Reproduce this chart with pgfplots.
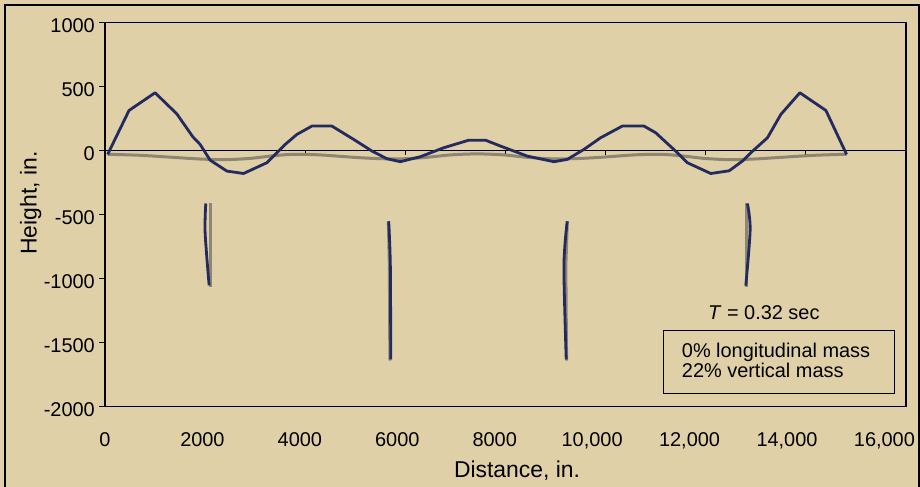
\documentclass[border=0pt]{standalone}
\usepackage{pgfplots}
\pgfplotsset{compat=1.18}
\usepackage{fontspec}
\setmainfont{Liberation Sans}
\definecolor{bg}{RGB}{223,208,167}
\definecolor{navy}{RGB}{35,42,96}
\definecolor{taupe}{RGB}{142,134,112}
\begin{document}
\begin{tikzpicture}
\fill[bg] (0,0) rectangle (920bp,487bp);
\path[use as bounding box] (0,0) rectangle (920bp,487bp);
\draw[line width=1.2bp] (5bp,-5bp) -- (5bp,482bp) -- (919bp,482bp) -- (919bp,-5bp);
\begin{axis}[
 at={(105bp,80.3bp)}, anchor=south west, scale only axis,
 width=801bp, height=384.4bp,
 xmin=0, xmax=16000, ymin=-2000, ymax=1000,
 axis line style={line width=1.2bp},
 xtick={0,2000,4000,6000,8000,10000,12000,14000,16000},
 xticklabels={0,2000,4000,6000,8000,{10,000},{12,000},{14,000},{16,000}},
 ytick={-2000,-1500,-1000,-500,0,500,1000},
 yticklabels={-2000,-1500,-1000,-500,0,500,1000},
 xtick style={draw=none},
 ytick style={line width=1.2bp, black},
 major tick length=6bp,
 tick align=outside,
 xtick pos=bottom, ytick pos=left,
 ticklabel style={font=\fontsize{20}{24}\selectfont, inner sep=0pt},
 xticklabel style={anchor=base, yshift=-33.5bp, xshift={-2.7bp*\ticknum}},
 yticklabel style={anchor=base east, xshift=-4bp, yshift=-10.2bp},
 xlabel={Distance, in.}, ylabel={Height, in.},
 label style={font=\fontsize{23}{27}\selectfont},
 xlabel style={at={(axis description cs:0.5144,-0.1837)}, anchor=base},
 ylabel style={at={(axis description cs:-0.0853,0.530)}, anchor=base},
 clip=false,
 scaled ticks=false,
]
\draw[line width=1.2bp] (axis cs:0,0) -- (axis cs:16000,0);
\pgfplotsinvokeforeach{2000,4000,6000,8000,10000,12000,14000}{
  \draw[line width=1.2bp] (axis cs:#1,0) -- ([yshift=-5bp]axis cs:#1,0);
}
% gray (taupe) series
\addplot[taupe, line width=3bp, smooth] coordinates {
(53,-30) (700,-38) (1400,-55) (1900,-67) (2400,-72) (2900,-62) (3400,-40)
(3800,-30) (4300,-35) (4900,-52) (5400,-63) (5900,-66) (6400,-55) (6900,-35)
(7433,-27) (7966,-35) (8466,-55) (8966,-66) (9466,-63) (9966,-52) (10566,-35)
(11066,-30) (11466,-40) (11966,-62) (12466,-72) (12966,-67) (13466,-55)
(14166,-38) (14813,-30)};
\addplot[taupe, line width=3bp] coordinates {(2113,-414) (2113,-1064)};
\addplot[taupe, line width=3bp] coordinates {(5660,-553) (5680,-900) (5690,-1640)};
\addplot[taupe, line width=3bp] coordinates {(9235,-553) (9205,-904) (9220,-1640)};
\addplot[taupe, line width=3bp] coordinates {(12810,-414) (12810,-1064)};
% navy series
\addplot[navy, line width=2.8bp, line join=round] coordinates {
(53,-31) (480,312) (1000,450) (1433,286) (1753,107) (1900,47) (2100,-76)
(2433,-161) (2767,-180) (3233,-96) (3600,47) (3833,125) (4133,190) (4533,190)
(4967,86) (5333,-5) (5633,-65) (5900,-88) (6300,-49) (6767,21) (7267,80)
(7600,80) (7900,34) (8433,-44) (8967,-88) (9233,-70) (9567,8) (9900,99)
(10333,190) (10767,190) (11000,138) (11433,-18) (11633,-96) (12100,-180)
(12467,-159) (12733,-83) (12900,-18) (13233,99) (13500,281) (13880,450)
(14400,312) (14813,-31)};
\addplot[navy, line width=2.8bp, smooth] coordinates {(2013,-414) (2000,-642) (2080,-1053)};
\addplot[navy, line width=2.8bp, smooth] coordinates {(5667,-553) (5700,-904) (5707,-1631)};
\addplot[navy, line width=2.8bp, smooth] coordinates {(9233,-553) (9167,-904) (9213,-1631)};
\addplot[navy, line width=2.8bp, smooth] coordinates {(12833,-415) (12887,-618) (12800,-1055)};
% annotations
\node[font=\fontsize{20}{24}\selectfont] at (axis cs:13160,-1265) {\textit{T} = 0.32 sec};
\draw[line width=1bp] (axis cs:11160,-1405) rectangle (axis cs:15780,-1896);
\node[anchor=base west, inner sep=0pt, font=\fontsize{20}{24}\selectfont] at (axis cs:11520,-1617) {0\% longitudinal mass};
\node[anchor=base west, inner sep=0pt, font=\fontsize{20}{24}\selectfont] at (axis cs:11520,-1773) {22\% vertical mass};
\end{axis}
\end{tikzpicture}
\end{document}
